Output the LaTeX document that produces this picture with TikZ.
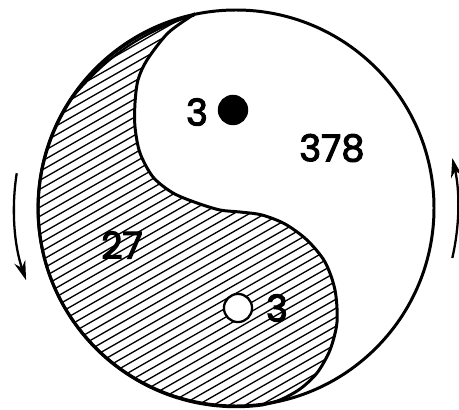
\documentclass[tikz,border=0pt]{standalone}
\usepackage{fontspec}
\setmainfont{Poppins}[FakeBold=3]
\usetikzlibrary{arrows.meta}
\tikzset{
    outline/.style={line width=1.7pt},
    hatchline/.style={line width=0.75pt},
    spin/.style={line width=1.3pt, -{Stealth[length=11pt,width=6.5pt]}},
    dot/.style={circle, draw, line width=1.3pt, minimum size=16pt, inner sep=0pt},
    digit/.style={font=\fontsize{21}{25}\selectfont, inner sep=0pt}
}

\begin{document}
\begin{tikzpicture}[x=0.02cm, y=0.02cm]
        \useasboundingbox (0,0) rectangle (459,409);
        \coordinate (C) at (236,201);
        \coordinate (T) at (193,394);
        \coordinate (B) at (262,4);
        \coordinate (E) at (70,309);
        \path[save path=\darkhalf] plot[smooth] coordinates {
            (193,394) (168,376) (147,349) (138,329) (135,306) (135,282)
            (140,256) (153,232) (173,216) (197,206) (220,199) (240,197)
            (262,194) (285,185) (307,169) (325,147) (335,119) (337,87)
            (330,59) (317,36) (300,20) (280,9) (262,4)}
            arc[start angle=277.5, end angle=102.6, radius=198] -- cycle;
        \begin{scope}
            \clip[use path=\darkhalf];
            \foreach \c in {-280,-271,...,420}
            {
                \draw[hatchline] (0,\c) -- (459,\c+262);
            }
        \end{scope}
        \draw[outline, use path=\darkhalf];
        \draw[outline] (C) circle[radius=198];
        \draw[line width=1.3pt] (E) to[bend left=15] (T);
        \node[dot, fill=black] (yangdot) at (233,299) {};
        \node[dot, fill=white] (yindot) at (238,101) {};
        \node[digit] (yangseed) at (197,297) {3};
        \node[digit] (yangsum) at (332,261) {378};
        \node[digit] (yinsum) at (122,164) {27};
        \node[digit] (yinseed) at (277,101) {3};
        \draw[spin] ([shift={(171:222)}]C) arc[start angle=171, end angle=199, radius=222];
        \draw[spin] ([shift={(-13:222)}]C) arc[start angle=-13, end angle=13, radius=222];
    \end{tikzpicture}
\end{document}
